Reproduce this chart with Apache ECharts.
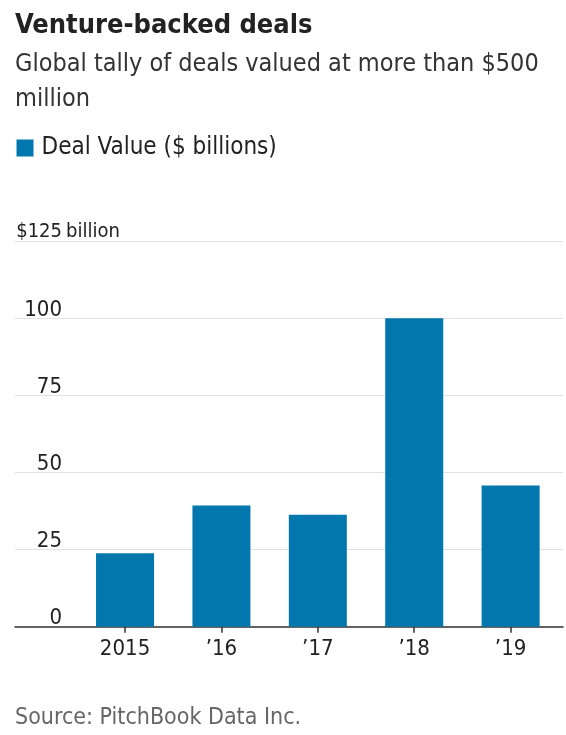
<!DOCTYPE html>
<html><head><meta charset="utf-8">
<script src="https://cdn.jsdelivr.net/npm/echarts@6/dist/echarts.min.js"></script>
<style>html,body{margin:0;padding:0;background:#fff}#c{width:566px;height:735px}</style>
</head><body><div id="c"></div>
<script>
const categories = ['2015', '\u201916', '\u201917', '\u201918', '\u201919'];
const dealValues = [23.8, 39.3, 36.3, 100, 45.8];
const seriesName = 'Deal Value ($ billions)';
const yMin = 0, yMax = 125, yStep = 25;

const F = "'DejaVu Sans Condensed',sans-serif";
const chart = echarts.init(document.getElementById('c'), null, {renderer: 'canvas'});
const gridTop = 241, gridBottom = 108.3;
chart.setOption({
  animation: false,
  backgroundColor: '#fff',
  title: [
    {text: 'Venture-backed deals', left: 10, top: 7, textStyle: {fontFamily: F, fontSize: 27, fontWeight: 'bold', color: '#222'}},
    {text: 'Global tally of deals valued at more than $500\nmillion', left: 10, top: 42, textStyle: {fontFamily: F, fontSize: 25, fontWeight: 'normal', color: '#333', lineHeight: 35}},
    {text: 'Source: PitchBook Data Inc.', left: 10, top: 702, textStyle: {fontFamily: F, fontSize: 23, fontWeight: 'normal', color: '#666'}}
  ],
  legend: {
    left: 11.5, top: 131, itemWidth: 17, itemHeight: 17, icon: 'rect', itemGap: 8,
    textStyle: {fontFamily: F, fontSize: 24, color: '#222', padding: [0, 0, 0, 3]},
    data: [seriesName]
  },
  grid: [
    {left: 15, right: 3, top: gridTop, bottom: gridBottom},
    {left: 76.85, right: 7.2, top: gridTop, bottom: gridBottom}
  ],
  xAxis: [
    {gridIndex: 0, type: 'category', data: [''], axisLine: {lineStyle: {color: '#333', width: 1.5}}, axisTick: {show: false}, axisLabel: {show: false}},
    {gridIndex: 1, type: 'category', data: categories, axisLine: {show: false},
     axisTick: {show: true, alignWithLabel: true, length: 6, lineStyle: {color: '#333', width: 1.5}},
     axisLabel: {fontFamily: F, fontSize: 22, color: '#222', margin: 12}}
  ],
  yAxis: [
    {gridIndex: 0, type: 'value', min: yMin, max: yMax, interval: yStep,
     axisLine: {show: false}, axisTick: {show: false},
     splitLine: {lineStyle: {color: '#e2e2e2', width: 1}},
     axisLabel: {inside: true, align: 'right', verticalAlign: 'bottom', margin: 47, fontFamily: F, fontSize: 22, color: '#222',
       padding: [0, 0, -3, 0],
       formatter: v => v === yMax ? '{s|$' + v + '}' : String(v),
       rich: {s: {fontFamily: F, fontSize: 20, color: '#222', padding: [0, 0, 2, 0]}}}},
    {gridIndex: 1, type: 'value', min: yMin, max: yMax, interval: yStep, show: false}
  ],
  graphic: [
    {type: 'text', left: 66, top: 222, style: {text: 'billion', fontFamily: F, fontSize: 20, fill: '#222'}}
  ],
  series: [{
    name: seriesName, type: 'bar', xAxisIndex: 1, yAxisIndex: 1,
    data: dealValues, barWidth: 58, itemStyle: {color: '#0277ad'}
  }]
});
</script>
</body></html>
